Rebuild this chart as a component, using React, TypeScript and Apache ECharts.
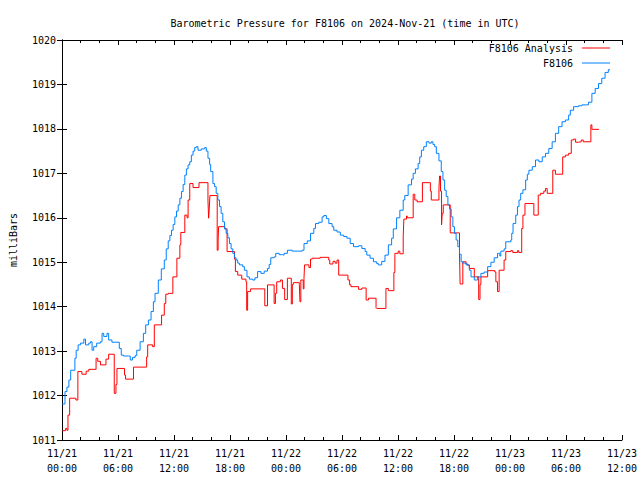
import React, { useEffect, useRef } from "react";
import * as echarts from "echarts";

const TITLE = "Barometric Pressure for F8106 on 2024-Nov-21 (time in UTC)";
const Y_NAME = "milliBars";
const SERIES_NAMES = ["F8106 Analysis", "F8106"];
const TICK_DATES = ["11/21", "11/21", "11/21", "11/21", "11/22", "11/22", "11/22", "11/22", "11/23", "11/23", "11/23"];
const TICK_TIMES = ["00:00", "06:00", "12:00", "18:00", "00:00", "06:00", "12:00", "18:00", "00:00", "06:00", "12:00"];

// hours since 11/21 00:00 UTC
const analysisHours = [
  0.03, 0.39, 0.53, 0.64, 0.82, 1.49, 1.7, 2.13, 2.59, 2.87, 3.65, 3.83, 4.12, 4.71, 5.0, 5.6, 5.78, 5.89,
  6.7, 6.81, 7.66, 9.07, 9.18, 9.71, 9.89, 10.67, 10.96, 11.12, 11.38, 11.88, 12.31, 12.63, 12.73, 13.16,
  13.4, 13.51, 13.69, 14.04, 14.68, 15.64, 15.71, 15.78, 15.85, 16.63, 16.73, 16.78, 17.45, 17.69, 18.48,
  18.58, 18.83, 19.26, 19.71, 19.79, 19.89, 20.21, 21.73, 22.02, 22.73, 22.87, 23.01, 23.4, 23.62, 23.86,
  24.15, 24.57, 24.68, 24.79, 25.43, 25.5, 25.59, 25.85, 25.93, 25.99, 26.46, 26.63, 26.81, 27.66, 28.58,
  28.69, 29.04, 29.26, 29.47, 29.65, 30.64, 30.82, 30.96, 31.78, 32.13, 32.59, 32.84, 33.65, 33.72, 34.71,
  34.97, 35.56, 35.67, 36.03, 36.2, 36.56, 36.63, 36.91, 36.99, 37.63, 37.8, 38.05, 38.62, 39.47, 39.57,
  40.39, 40.46, 40.56, 40.67, 40.74, 40.85, 41.6, 42.59, 42.66, 42.95, 43.3, 43.48, 43.65, 44.18, 44.65,
  44.79, 44.89, 45.61, 46.38, 46.49, 46.67, 46.84, 47.37, 47.55, 48.09, 48.3, 48.8, 48.94, 49.26, 49.39,
  49.61, 50.56, 51.03, 51.28, 51.63, 51.81, 51.99, 52.59, 52.87, 53.65, 53.94, 54.29, 54.57, 54.82, 55.03,
  55.35, 55.64, 55.85, 56.67, 56.78, 57.55
];
const analysisValues = [
  1011.21, 1011.26, 1011.22, 1011.56, 1011.94, 1011.9, 1012.54, 1012.48, 1012.55, 1012.59, 1012.84, 1012.77,
  1012.69, 1012.82, 1012.93, 1012.05, 1012.25, 1012.61, 1012.46, 1012.37, 1012.64, 1012.87, 1013.14, 1013.1,
  1013.59, 1013.81, 1014.07, 1014.28, 1014.3, 1014.67, 1015.09, 1015.39, 1015.67, 1016.06, 1016.0, 1016.4,
  1016.77, 1016.68, 1016.79, 1016.4, 1015.99, 1016.2, 1016.5, 1015.27, 1015.5, 1015.8, 1015.75, 1015.24,
  1015.07, 1014.79, 1014.71, 1014.62, 1014.56, 1013.92, 1014.34, 1014.4, 1014.02, 1014.49, 1014.07, 1014.3,
  1014.56, 1014.6, 1014.41, 1014.16, 1014.64, 1014.06, 1014.5, 1014.54, 1014.5, 1014.11, 1014.6, 1014.4,
  1014.64, 1014.94, 1014.88, 1015.07, 1015.09, 1015.11, 1015.05, 1014.96, 1015.02, 1014.98, 1015.05, 1014.71,
  1014.6, 1014.49, 1014.45, 1014.39, 1014.42, 1014.15, 1014.19, 1013.98, 1013.96, 1014.41, 1014.36, 1014.77,
  1015.2, 1015.25, 1015.19, 1015.57, 1015.97, 1016.04, 1016.0, 1016.53, 1016.4, 1016.36, 1016.79, 1016.6,
  1016.4, 1016.66, 1016.94, 1016.6, 1015.84, 1016.1, 1016.29, 1015.66, 1015.2, 1014.51, 1015.01, 1014.96,
  1014.93, 1014.86, 1014.67, 1014.16, 1014.5, 1014.67, 1014.81, 1014.78, 1014.56, 1014.34, 1014.82, 1015.05,
  1015.24, 1015.26, 1015.22, 1015.26, 1015.22, 1015.76, 1016.06, 1016.32, 1016.06, 1016.51, 1016.55, 1016.6,
  1016.66, 1016.55, 1017.07, 1016.98, 1017.37, 1017.41, 1017.45, 1017.75, 1017.77, 1017.7, 1017.71, 1017.75,
  1017.71, 1018.09, 1017.99, 1017.99
];

const stationHours = [
  0.03, 0.32, 0.53, 0.74, 0.93, 1.17, 1.38, 1.52, 1.73, 1.99, 2.34, 2.52, 2.87, 3.05, 3.22, 3.4, 3.72, 4.12,
  4.29, 4.47, 4.82, 5.0, 5.35, 5.71, 6.14, 6.35, 6.6, 7.13, 7.31, 7.55, 7.84, 8.01, 8.37, 8.72, 8.97, 9.26,
  9.54, 9.79, 9.97, 10.32, 10.64, 10.96, 11.17, 11.38, 11.56, 11.73, 11.91, 12.09, 12.27, 12.45, 12.63, 12.8,
  12.98, 13.16, 13.33, 13.51, 13.69, 13.86, 14.04, 14.22, 14.39, 14.57, 14.93, 15.29, 15.46, 15.64, 15.82,
  15.93, 16.17, 16.35, 16.52, 16.7, 16.88, 17.05, 17.23, 17.41, 17.59, 17.77, 17.94, 18.12, 18.3, 18.48,
  18.65, 18.83, 19.01, 19.36, 19.54, 19.82, 20.07, 20.43, 20.67, 20.96, 21.31, 21.67, 22.02, 22.2, 22.37,
  22.73, 22.9, 23.27, 23.62, 23.8, 24.15, 24.68, 25.21, 25.74, 25.93, 26.28, 26.63, 26.98, 27.16, 27.52,
  27.87, 28.05, 28.33, 28.59, 28.94, 29.12, 29.47, 29.82, 30.18, 30.53, 30.88, 31.24, 31.78, 32.13, 32.48,
  32.66, 33.01, 33.37, 33.72, 33.9, 34.26, 34.61, 34.97, 35.32, 35.5, 35.85, 36.2, 36.56, 36.73, 37.09,
  37.45, 37.63, 37.87, 38.16, 38.33, 38.51, 38.76, 39.04, 39.33, 39.57, 39.75, 39.93, 40.11, 40.39, 40.64,
  40.82, 41.0, 41.17, 41.35, 41.52, 41.7, 41.88, 42.05, 42.23, 42.41, 42.59, 42.77, 42.95, 43.3, 43.65,
  43.83, 44.18, 44.54, 44.89, 45.24, 45.61, 45.96, 46.31, 46.67, 46.81, 46.91, 47.02, 47.37, 47.55, 48.09,
  48.19, 48.33, 48.62, 48.8, 48.97, 49.15, 49.39, 49.68, 49.86, 50.03, 50.39, 50.74, 51.1, 51.46, 51.81,
  52.16, 52.52, 52.87, 53.22, 53.58, 53.94, 54.29, 54.47, 54.82, 55.35, 55.71, 56.24, 56.41, 56.78, 57.13,
  57.49, 57.84, 58.19, 58.54, 58.72
];
const stationValues = [
  1011.81, 1012.09, 1012.19, 1012.35, 1012.57, 1012.57, 1012.84, 1013.02, 1013.14, 1013.18, 1013.27, 1013.14,
  1013.18, 1013.21, 1013.02, 1013.1, 1013.18, 1013.21, 1013.4, 1013.33, 1013.4, 1013.25, 1013.2, 1013.2,
  1013.06, 1012.91, 1012.89, 1012.89, 1012.8, 1012.86, 1012.9, 1013.02, 1013.21, 1013.4, 1013.59, 1013.7,
  1013.89, 1014.11, 1014.3, 1014.6, 1014.85, 1015.05, 1015.3, 1015.48, 1015.6, 1015.72, 1015.85, 1016.02,
  1016.15, 1016.29, 1016.44, 1016.59, 1016.75, 1016.96, 1017.1, 1017.19, 1017.26, 1017.41, 1017.5, 1017.58,
  1017.6, 1017.52, 1017.55, 1017.58, 1017.5, 1017.34, 1017.2, 1017.04, 1016.77, 1016.7, 1016.55, 1016.4,
  1016.25, 1016.1, 1015.91, 1015.75, 1015.65, 1015.55, 1015.42, 1015.3, 1015.2, 1015.1, 1015.05, 1014.98,
  1014.94, 1014.9, 1014.82, 1014.67, 1014.62, 1014.6, 1014.65, 1014.79, 1014.75, 1014.8, 1014.86, 1014.95,
  1015.1, 1015.12, 1015.2, 1015.17, 1015.16, 1015.2, 1015.27, 1015.25, 1015.25, 1015.27, 1015.42, 1015.48,
  1015.65, 1015.76, 1015.87, 1015.9, 1016.02, 1016.05, 1015.98, 1015.87, 1015.8, 1015.72, 1015.68, 1015.61,
  1015.58, 1015.54, 1015.42, 1015.35, 1015.37, 1015.31, 1015.24, 1015.16, 1015.09, 1015.01, 1014.97, 1014.94,
  1015.02, 1015.16, 1015.39, 1015.54, 1015.75, 1016.0, 1016.17, 1016.4, 1016.5, 1016.74, 1016.87, 1017.0,
  1017.1, 1017.22, 1017.37, 1017.52, 1017.6, 1017.71, 1017.68, 1017.71, 1017.65, 1017.6, 1017.45, 1017.28,
  1017.04, 1016.85, 1016.62, 1016.48, 1016.29, 1016.2, 1016.02, 1015.8, 1015.65, 1015.5, 1015.35, 1015.18,
  1015.01, 1014.98, 1014.94, 1014.82, 1014.67, 1014.6, 1014.67, 1014.75, 1014.78, 1014.9, 1015.0, 1015.1,
  1015.2, 1015.2, 1015.14, 1015.25, 1015.3, 1015.46, 1015.5, 1015.65, 1015.87, 1016.06, 1016.25, 1016.4,
  1016.55, 1016.63, 1016.85, 1016.98, 1017.07, 1017.15, 1017.3, 1017.26, 1017.37, 1017.45, 1017.56, 1017.71,
  1017.9, 1018.05, 1018.16, 1018.2, 1018.31, 1018.42, 1018.5, 1018.52, 1018.54, 1018.54, 1018.6, 1018.8,
  1018.91, 1019.02, 1019.14, 1019.27, 1019.33, 1019.33
];

const FONT = "DejaVu Sans Mono";
const RED = "#ff0000";
const BLUE = "#0080ff";

export default function App() {
  const ref = useRef<HTMLDivElement>(null);
  useEffect(() => {
    if (!ref.current) return;
    const chart = echarts.init(ref.current, undefined, { renderer: "svg" });
    const tickFormatter = (v: number) => {
      const i = Math.round(v / 6);
      return TICK_DATES[i] + "\n" + TICK_TIMES[i];
    };
    const xBase = {
      type: "value",
      min: 0,
      max: 60,
      interval: 6,
      axisLine: { show: true, lineStyle: { color: "#000", width: 1 } },
      axisTick: { show: true, inside: true, length: 5, lineStyle: { color: "#000" } },
      minorTick: { show: true, splitNumber: 3, length: 3, lineStyle: { color: "#000" } },
      splitLine: { show: false },
      minorSplitLine: { show: false },
    };
    const yBase = {
      type: "value",
      min: 1011,
      max: 1020,
      interval: 1,
      axisLine: { show: true, lineStyle: { color: "#000", width: 1 } },
      axisTick: { show: true, inside: true, length: 5, lineStyle: { color: "#000" } },
      splitLine: { show: false },
    };
    const legendBase = {
      right: 30,
      align: "right",
      itemWidth: 28,
      itemHeight: 1,
      icon: "rect",
      itemGap: 0,
      padding: 0,
      textStyle: { fontFamily: FONT, fontSize: 10, color: "#000", padding: [0, 4, 0, 0] },
    };
    chart.setOption({
      animation: false,
      backgroundColor: "#fff",
      textStyle: { fontFamily: FONT, color: "#000" },
      title: {
        text: TITLE,
        left: 340,
        textAlign: "center",
        top: 13,
        textStyle: { fontFamily: FONT, fontSize: 10, fontWeight: "normal", color: "#000" },
      },
      legend: [
        { ...legendBase, data: [SERIES_NAMES[0]], top: 43 },
        { ...legendBase, data: [SERIES_NAMES[1]], top: 58 },
      ],
      grid: { left: 58, right: 18, top: 40, bottom: 40, containLabel: false },
      xAxis: [
        {
          ...xBase,
          position: "bottom",
          axisLabel: {
            show: true,
            formatter: tickFormatter,
            fontFamily: FONT,
            fontSize: 10,
            lineHeight: 15,
            color: "#000",
            margin: 6,
          },
        },
        { ...xBase, position: "top", axisLabel: { show: false } },
      ],
      yAxis: [
        {
          ...yBase,
          position: "left",
          name: Y_NAME,
          nameLocation: "middle",
          nameRotate: 90,
          nameGap: 44,
          nameTextStyle: { fontFamily: FONT, fontSize: 10, color: "#000" },
          axisLabel: {
            show: true,
            fontFamily: FONT,
            fontSize: 10,
            color: "#000",
            margin: 6,
            formatter: (v: number) => String(v),
          },
        },
        { ...yBase, position: "right", axisLabel: { show: false } },
      ],
      series: [
        {
          name: SERIES_NAMES[0],
          type: "line",
          step: "end",
          showSymbol: false,
          xAxisIndex: 0,
          yAxisIndex: 0,
          color: RED,
          lineStyle: { color: RED, width: 1 },
          data: analysisHours.map((h, i) => [h, analysisValues[i]]),
        },
        {
          name: SERIES_NAMES[1],
          type: "line",
          step: "end",
          showSymbol: false,
          xAxisIndex: 0,
          yAxisIndex: 0,
          color: BLUE,
          lineStyle: { color: BLUE, width: 1 },
          data: stationHours.map((h, i) => [h, stationValues[i]]),
        },
      ],
    });
    return () => chart.dispose();
  }, []);
  return (
    <div
      ref={ref}
      style={{ position: "fixed", left: 0, top: 0, width: 640, height: 480, background: "#fff" }}
    />
  );
}
